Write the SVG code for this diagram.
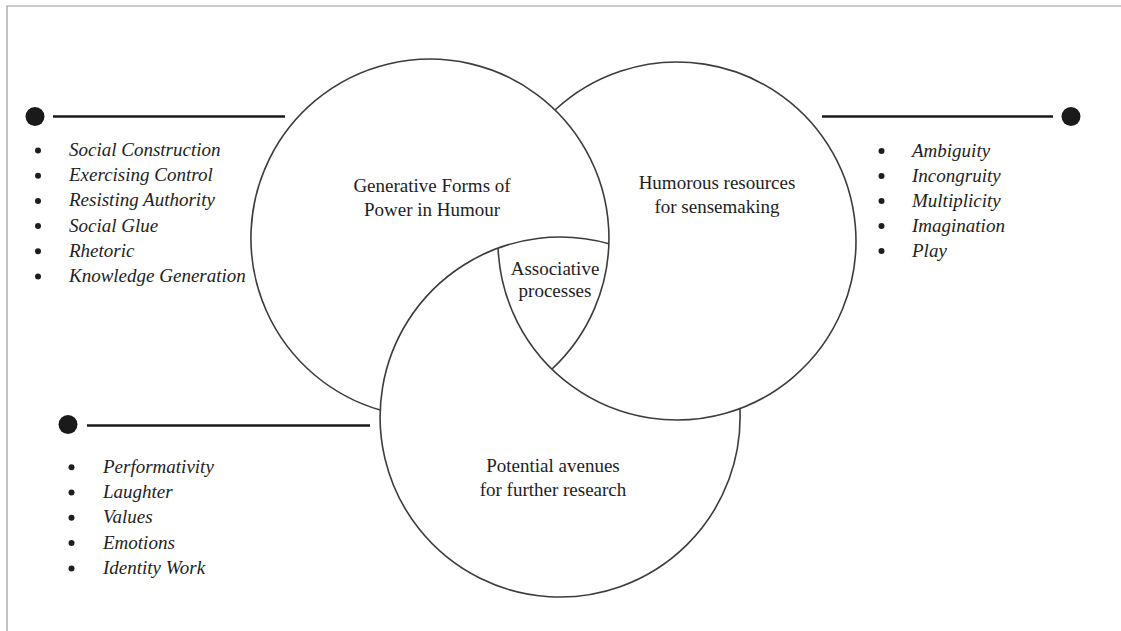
<svg xmlns="http://www.w3.org/2000/svg" width="1121" height="631" viewBox="0 0 1121 631">
<style>
.frame{stroke:#9a9a9a;stroke-width:1.2;fill:none}
.circ{stroke:#3c3c3c;stroke-width:1.6;fill:none}
.lead{stroke:#1a1a1a;stroke-width:2.6}
.dot{fill:#1a1a1a}
.lbl{font-family:"Liberation Serif","Times New Roman",serif;font-size:19px;fill:#1e1e1e;text-anchor:middle}
.item{font-family:"Liberation Serif","Times New Roman",serif;font-size:19px;font-style:italic;fill:#1e1e1e}
.bul{fill:#1e1e1e}
</style>
<rect width="1121" height="631" fill="#fff"/>
<path class="frame" d="M7,631 V6 H1121"/>
<g id="connectors">
<line class="lead" x1="53" y1="116.5" x2="285" y2="116.5"/>
<circle class="dot" cx="35" cy="116.5" r="9.5"/>
<line class="lead" x1="822" y1="116.5" x2="1053" y2="116.5"/>
<circle class="dot" cx="1071" cy="116.5" r="9.5"/>
<line class="lead" x1="87" y1="425.5" x2="370" y2="425.5"/>
<circle class="dot" cx="68" cy="424.5" r="9.5"/>
</g>
<g id="circle-power">
<path class="circ" d="M380.1,410 A179,179 0 1 1 552,369"/>
<text class="lbl" x="432" y="192">Generative Forms of</text>
<text class="lbl" x="432" y="216">Power in Humour</text>
</g>
<g id="circle-sensemaking">
<path class="circ" d="M498.1,248 A179,179 0 1 0 555,110"/>
<text class="lbl" x="717" y="189">Humorous resources</text>
<text class="lbl" x="717" y="213">for sensemaking</text>
</g>
<g id="circle-research">
<path class="circ" d="M739.9,408.6 A180,180 0 1 1 608.9,243.8"/>
<text class="lbl" x="553" y="471.7">Potential avenues</text>
<text class="lbl" x="553" y="495.7">for further research</text>
</g>
<g id="center-associative">
<text class="lbl" x="555" y="275">Associative</text>
<text class="lbl" x="555" y="297">processes</text>
</g>
<g id="list-power">
<circle class="bul" cx="38" cy="150.5" r="3"/><text class="item" x="69" y="156">Social Construction</text>
<circle class="bul" cx="38" cy="175.7" r="3"/><text class="item" x="69" y="181.2">Exercising Control</text>
<circle class="bul" cx="38" cy="200.9" r="3"/><text class="item" x="69" y="206.4">Resisting Authority</text>
<circle class="bul" cx="38" cy="226.1" r="3"/><text class="item" x="69" y="231.6">Social Glue</text>
<circle class="bul" cx="38" cy="251.3" r="3"/><text class="item" x="69" y="256.8">Rhetoric</text>
<circle class="bul" cx="38" cy="276.5" r="3"/><text class="item" x="69" y="282">Knowledge Generation</text>
</g>
<g id="list-sensemaking">
<circle class="bul" cx="881.5" cy="151" r="3"/><text class="item" x="912" y="156.6">Ambiguity</text>
<circle class="bul" cx="881.5" cy="176" r="3"/><text class="item" x="912" y="181.6">Incongruity</text>
<circle class="bul" cx="881.5" cy="201" r="3"/><text class="item" x="912" y="206.6">Multiplicity</text>
<circle class="bul" cx="881.5" cy="226" r="3"/><text class="item" x="912" y="231.6">Imagination</text>
<circle class="bul" cx="881.5" cy="251" r="3"/><text class="item" x="912" y="256.6">Play</text>
</g>
<g id="list-research">
<circle class="bul" cx="71.5" cy="467.2" r="3"/><text class="item" x="103" y="472.7">Performativity</text>
<circle class="bul" cx="71.5" cy="492.5" r="3"/><text class="item" x="103" y="498">Laughter</text>
<circle class="bul" cx="71.5" cy="517.8" r="3"/><text class="item" x="103" y="523.3">Values</text>
<circle class="bul" cx="71.5" cy="543.1" r="3"/><text class="item" x="103" y="548.6">Emotions</text>
<circle class="bul" cx="71.5" cy="568.4" r="3"/><text class="item" x="103" y="573.9">Identity Work</text>
</g>
</svg>
